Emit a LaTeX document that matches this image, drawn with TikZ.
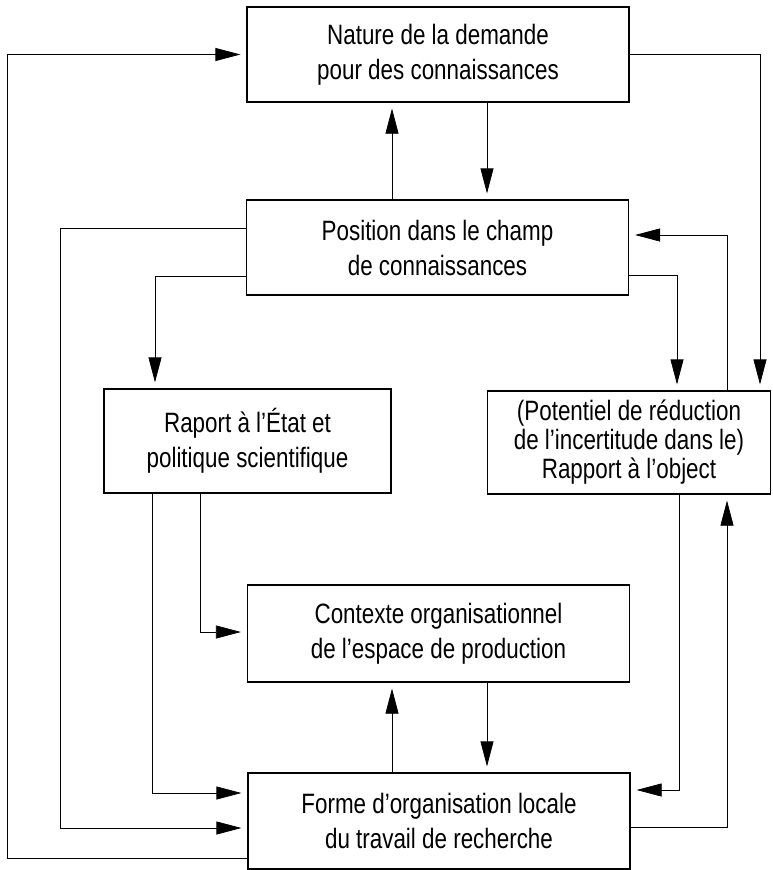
\documentclass[tikz,border=0pt]{standalone}
\usepackage{fontspec}
\setmainfont[FakeStretch=0.8]{Liberation Sans}
\usetikzlibrary{arrows.meta}

\begin{document}
\begin{tikzpicture}[x=1pt, y=-1pt, >={Triangle[length=25pt, width=13pt]},
    box/.style={draw, line width=1.2pt, minimum width=382pt, minimum height=95pt,
        inner sep=0pt, align=center, font=\fontsize{28}{35}\selectfont},
    link/.style={line width=0.7pt},
    arr/.style={link, ->, shorten >=6pt}]
    % CADRE
    \useasboundingbox (0,0) rectangle (772,870);

    % 1. BOITES
    \node[box] (nature) at (438,54.5) {Nature de la demande\\pour des connaissances};
    \node[box] (position) at (437.5,247.5) {Position dans le champ\\de connaissances};
    \node[box, minimum width=287pt, minimum height=104pt] (raport) at (247.5,441)
        {Raport à l’État et\\politique scientifique};
    \node[box, minimum width=283pt, minimum height=103pt,
        font=\fontsize{28}{29}\selectfont] (potentiel) at (629,442.5)
        {(Potentiel de réduction\\de l’incertitude dans le)\\Rapport à l’object};
    \node[box, minimum height=97pt] (contexte) at (438.5,633.5)
        {Contexte organisationnel\\de l’espace de production};
    \node[box, minimum height=96pt] (forme) at (439,821)
        {Forme d’organisation locale\\du travail de recherche};

    % 2. FLECHES CENTRALES
    \draw[arr] (position.north -| 392,0) -- (nature.south -| 392,0);
    \draw[arr] (nature.south -| 487,0) -- (position.north -| 487,0);
    \draw[arr] (forme.north -| 392,0) -- (contexte.south -| 392,0);
    \draw[arr] (contexte.south -| 487,0) -- (forme.north -| 487,0);

    % 3. BOUCLES A GAUCHE
    \draw[arr] (forme.west |- 0,858) -- (7,858) |- (nature.west);
    \draw[arr] (position.west |- 0,228) -- (60,228) |- (forme.west |- 0,828);
    \draw[arr] (position.west |- 0,276) -| (raport.north -| 155,0);
    \draw[arr] (raport.south -| 152,0) |- (forme.west |- 0,793);
    \draw[arr] (raport.south -| 200,0) |- (contexte.west |- 0,632);

    % 4. BOUCLES A DROITE
    \draw[arr] (nature.east) -| (potentiel.north -| 760,0);
    \draw[arr] (position.east |- 0,275) -| (potentiel.north -| 677,0);
    \draw[arr] (potentiel.north -| 727,0) |- (position.east |- 0,235);
    \draw[arr] (potentiel.south -| 679,0) |- (forme.east |- 0,790);
    \draw[arr] (forme.east |- 0,827) -| (potentiel.south -| 727,0);

\end{tikzpicture}
\end{document}
